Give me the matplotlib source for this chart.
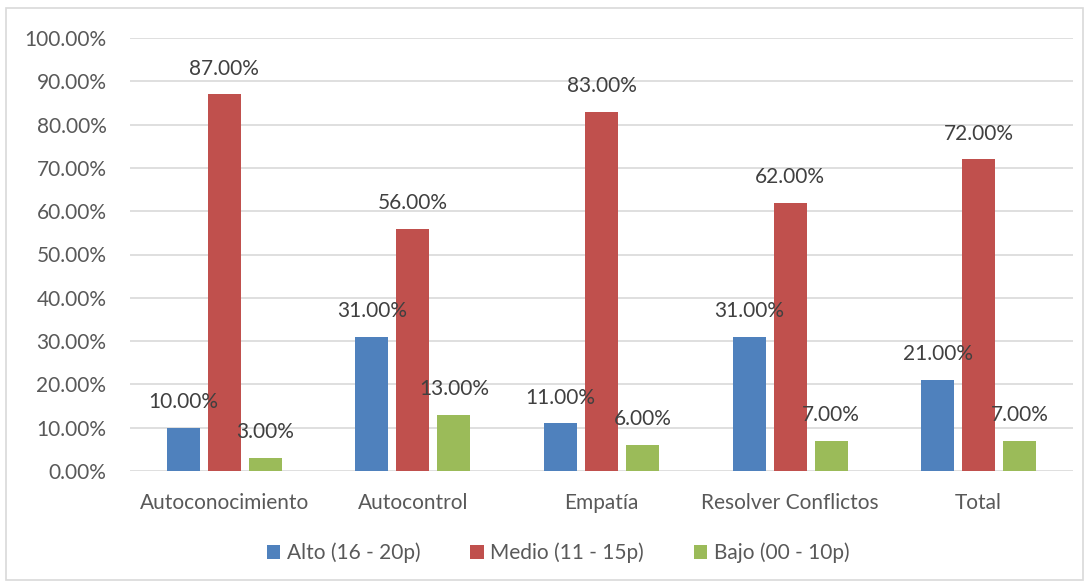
import matplotlib
matplotlib.use("Agg")
import matplotlib.pyplot as plt
from matplotlib.patches import Rectangle
from matplotlib.ticker import FuncFormatter, MultipleLocator
import numpy as np

categories = ["Autoconocimiento", "Autocontrol", "Empatía", "Resolver Conflictos", "Total"]
series_names = ["Alto (16 - 20p)", "Medio (11 - 15p)", "Bajo (00 - 10p)"]
alto = [10, 31, 11, 31, 21]
medio = [87, 56, 83, 62, 72]
bajo = [3, 13, 6, 7, 7]
colors = ["#4f81bd", "#c0504d", "#9bbb59"]

plt.rcParams['font.family'] = ['Lato', 'DejaVu Sans']
fig = plt.figure(figsize=(10.89, 5.86), dpi=100)
ax = fig.add_axes([130/1089, 1-471/586, (1073-130)/1089, (471-38)/586])

fs = 15
x = np.arange(len(categories))
w = 0.175
step = 0.217
text_color = "#595959"
for i, (vals, name) in enumerate(zip([alto, medio, bajo], series_names)):
    pos = x + (i - 1) * step
    ax.bar(pos, vals, width=w, color=colors[i], label=name, zorder=3)
    for p, v in zip(pos, vals):
        ax.annotate(f"{v:.2f}%", (p, v), xytext=(0, 18.5), textcoords="offset points",
                    ha="center", va="center", fontsize=fs, color="#404040", zorder=4)

ax.set_xlim(-0.5, len(categories) - 0.5)
ax.set_ylim(0, 100)
ax.yaxis.set_major_locator(MultipleLocator(10))
ax.yaxis.set_major_formatter(FuncFormatter(lambda v, p: f"{v:.2f}%"))
ax.set_xticks(x)
ax.set_xticklabels(categories)
ax.tick_params(axis="both", length=0, labelsize=fs, colors=text_color)
ax.tick_params(axis="x", pad=16)
ax.tick_params(axis="y", pad=17)
ax.grid(axis="y", color="#d9d9d9", linewidth=1.2, zorder=0)
for s in ax.spines.values():
    s.set_visible(False)

leg = fig.legend(loc="center", bbox_to_anchor=(558/1089, 1-553/586), ncol=3, frameon=False,
                 fontsize=fs, handlelength=0.65, handleheight=0.65, handletextpad=0.3,
                 columnspacing=2.4)
for t in leg.get_texts():
    t.set_color(text_color)

fig.patches.append(Rectangle((6/1089, 1-580/586), 1077/1089, 572/586, transform=fig.transFigure,
                             fill=False, edgecolor="#d9d9d9", linewidth=1.2))

fig.savefig("out.png", dpi=100)
